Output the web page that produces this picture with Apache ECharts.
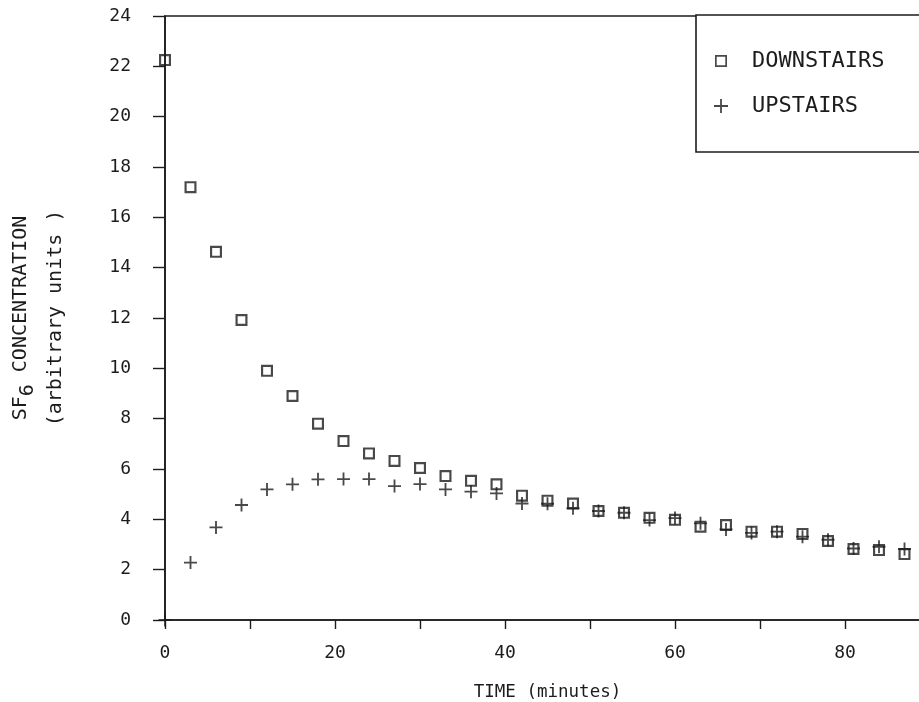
<!DOCTYPE html>
<html>
<head>
<meta charset="utf-8">
<script src="https://cdn.jsdelivr.net/npm/echarts@6/dist/echarts.min.js"></script>
<style>
html,body{margin:0;padding:0;background:#fff;}
#c{width:919px;height:702px;}
</style>
</head>
<body>
<div id="c"></div>
<script>
var times = [0,3,6,9,12,15,18,21,24,27,30,33,36,39,42,45,48,51,54,57,60,63,66,69,72,75,78,81,84,87];
var downstairs = [22.25,17.2,14.63,11.92,9.9,8.9,7.8,7.11,6.62,6.32,6.04,5.72,5.53,5.39,4.94,4.74,4.63,4.33,4.26,4.06,3.98,3.71,3.77,3.51,3.51,3.42,3.14,2.82,2.78,2.62];
var upstairs = [0,2.28,3.68,4.57,5.19,5.39,5.59,5.6,5.6,5.32,5.4,5.19,5.1,5.03,4.63,4.62,4.44,4.33,4.26,3.97,4.05,3.84,3.6,3.46,3.51,3.31,3.19,2.84,2.91,2.82];
var yTicks = [0,2,4,6,8,10,12,14,16,18,20,22,24];
var xTickLabels = [0,20,40,60,80];

var INK = '#1c1c1c';
var FONT = 'DejaVu Sans Mono';
var squarePath = 'path://M0,0H10V10H0Z M1.8,1.8V8.2H8.2V1.8Z';
var plusPath = 'path://M0,5.15H12V6.85H0Z M5.15,0H6.85V12H5.15Z';
var squareLegend = 'path://M0,0M14,14M1,1H13V13H1Z M2.7,2.7V11.3H11.3V2.7Z';
var plusLegend = 'path://M0,6.1H14V7.9H0Z M6.1,0H7.9V14H6.1Z';

function pairs(xs, ys){ return xs.map(function(x,i){ return [x, ys[i]]; }); }

var chart = echarts.init(document.getElementById('c'), null, {renderer:'canvas'});
chart.setOption({
  backgroundColor:'#fff',
  animation:false,
  grid:{left:165, top:16, width:765, height:604, outerBoundsMode:'none', containLabel:false,
        show:true, borderColor:INK, borderWidth:1.6, backgroundColor:'transparent'},
  xAxis:{
    type:'value', min:0, max:90, interval:10,
    name:'TIME (minutes)', nameLocation:'middle', nameGap:63,
    nameTextStyle:{fontFamily:FONT, fontSize:17.5, color:INK},
    axisLine:{show:true, onZero:false, lineStyle:{color:INK, width:1.6}},
    axisTick:{show:true, inside:false, length:9, lineStyle:{color:INK, width:1.4}},
    axisLabel:{margin:24, fontFamily:FONT, fontSize:18, color:INK,
      formatter:function(v){ return xTickLabels.indexOf(v) >= 0 ? String(v) : ''; }},
    splitLine:{show:false}
  },
  yAxis:{
    type:'value', min:yTicks[0], max:yTicks[yTicks.length-1], interval:2,
    name:'{a|SF}{s|6}{a| CONCENTRATION}\n{b|(arbitrary units )}',
    nameLocation:'middle', nameRotate:90, nameGap:92,
    nameTextStyle:{
      rich:{
        a:{fontFamily:FONT, fontSize:20, color:INK, lineHeight:35},
        s:{fontFamily:FONT, fontSize:20, color:INK, lineHeight:20, verticalAlign:'bottom'},
        b:{fontFamily:FONT, fontSize:20, color:INK, lineHeight:35}
      }
    },
    axisLine:{show:true, onZero:false, lineStyle:{color:INK, width:1.6}},
    axisTick:{show:true, inside:false, length:12, lineStyle:{color:INK, width:1.4}},
    axisLabel:{margin:34, fontFamily:FONT, fontSize:18, color:INK},
    splitLine:{show:false}
  },
  legend:{
    orient:'vertical', left:696, top:15,
    padding:[35, 80, 35, 18],
    itemWidth:14, itemHeight:14, itemGap:23,
    borderColor:INK, borderWidth:1.6, backgroundColor:'#fff',
    formatter:function(n){ return '{t|' + n + '}'; },
    textStyle:{fontFamily:FONT, fontSize:22, color:INK, lineHeight:22,
      rich:{t:{fontFamily:FONT, fontSize:22, color:INK, lineHeight:22, padding:[0,0,0,19]}}},
    data:[{name:'DOWNSTAIRS', icon:squareLegend},{name:'UPSTAIRS', icon:plusLegend}]
  },
  series:[
    {name:'DOWNSTAIRS', type:'scatter', data:pairs(times, downstairs), symbol:squarePath, symbolSize:12,
     itemStyle:{color:INK}, clip:false, z:2},
    {name:'UPSTAIRS', type:'scatter', data:pairs(times, upstairs), symbol:plusPath, symbolSize:13,
     itemStyle:{color:INK}, clip:false, z:3}
  ]
});
</script>
</body>
</html>
